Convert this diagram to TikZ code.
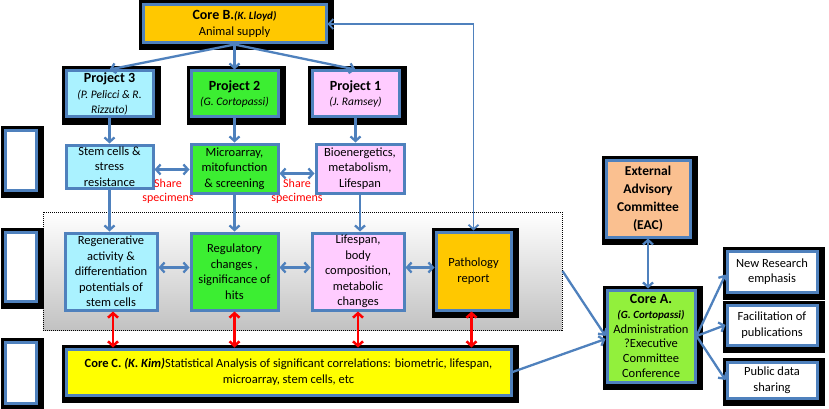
\documentclass[tikz,border=0pt]{standalone}
\usepackage{fontspec}
\setmainfont{Carlito}
\usetikzlibrary{arrows.meta,positioning}
\definecolor{bord}{RGB}{79,129,189}
\definecolor{orng}{RGB}{255,200,0}
\definecolor{cyn}{RGB}{170,242,255}
\definecolor{grn}{RGB}{60,238,50}
\definecolor{pnk}{RGB}{255,204,255}
\definecolor{ylw}{RGB}{255,255,0}
\definecolor{lime}{RGB}{146,240,60}
\definecolor{peach}{RGB}{250,192,144}
\definecolor{rd}{RGB}{255,0,0}
\newcommand{\ttlfont}{\fontsize{14}{16}\selectfont\bfseries}
\newcommand{\nmfont}{\fontsize{11.5}{14}\selectfont\itshape}
\tikzset{
  bx/.style={rectangle,draw=bord,line width=3pt,align=center,inner sep=1pt,font=\fontsize{12.5}{15.5}\selectfont},
  shd/.style={preaction={fill=black,draw=black,line width=12pt,transform canvas={shift={(1.5pt,-1.5pt)}}}},
  pnl/.style={rectangle,draw=black,densely dotted,line width=1pt,top color=white,bottom color=black!24},
  arr/.style={-{Straight Barb[length=4.5pt,width=10pt]},draw=bord,line width=2.3pt},
  darr/.style={{Straight Barb[length=4.5pt,width=10pt]}-{Straight Barb[length=4.5pt,width=10pt]},draw=bord,line width=2.3pt},
  rarr/.style={{Straight Barb[length=4.5pt,width=10pt]}-{Straight Barb[length=4.5pt,width=10pt]},draw=rd,line width=2.5pt},
  shr/.style={text=rd,align=center,font=\fontsize{12}{14}\selectfont},
}

\begin{document}
\begin{tikzpicture}[x=1pt,y=-1pt]
\useasboundingbox (0,0) rectangle (829,409);
% grey panel behind the second row of results
\node[pnl,minimum width=519pt,minimum height=118pt] (panel) at (302.5,271) {};
% left markers
\node[bx,fill=white,shd,minimum width=31pt,minimum height=60pt] (lb1) at (20.5,160) {};
\node[bx,fill=white,shd,minimum width=31pt,minimum height=69pt] (lb2) at (20.5,266.5) {};
\node[bx,fill=white,shd,minimum width=31pt,minimum height=61pt] (lb3) at (20.5,372.5) {};
% cores and projects
\node[bx,fill=orng,shd,minimum width=183pt,minimum height=38pt] (coreB) at (234.5,24)
  {{\ttlfont Core B.}{\fontsize{11}{13}\selectfont\bfseries\itshape(K. Lloyd)}\\Animal supply};
\node[bx,fill=cyn,shd,minimum width=87pt,minimum height=46pt] (p3) at (109.5,94)
  {{\ttlfont Project 3}\\{\nmfont(P. Pelicci \& R.}\\{\nmfont Rizzuto)}};
\node[bx,fill=grn,shd,minimum width=87pt,minimum height=46pt] (p2) at (234.5,94)
  {{\ttlfont Project 2}\\{\nmfont(G. Cortopassi)}};
\node[bx,fill=pnk,shd,minimum width=87pt,minimum height=46pt] (p1) at (355.5,94)
  {{\ttlfont Project 1}\\{\nmfont(J. Ramsey)}};
% first row of results
\node[bx,fill=cyn,minimum width=87pt,minimum height=43pt] (stem) at (109.5,166.5) {Stem cells \&\\stress\\resistance};
\node[bx,fill=grn,minimum width=87pt,minimum height=49pt] (micro) at (234.5,168.5) {Microarray,\\mitofunction\\\& screening};
\node[bx,fill=pnk,minimum width=88pt,minimum height=49pt] (bio) at (360,168.5) {Bioenergetics,\\metabolism,\\Lifespan};
\node[shr] (sh1) at (168,191) {Share\\specimens};
\node[shr] (sh2) at (297,191) {Share\\specimens};
% second row of results
\node[bx,fill=cyn,minimum width=92pt,minimum height=77pt] (regen) at (111,271.5)
  {Regenerative\\activity \&\\differentiation\\potentials of\\stem cells};
\node[bx,fill=grn,minimum width=87pt,minimum height=77pt] (regul) at (234.5,271.5)
  {Regulatory\\changes ,\\significance of\\hits};
\node[bx,fill=pnk,minimum width=92pt,minimum height=77pt] (life) at (358,271.5)
  {Lifespan,\\body\\composition,\\metabolic\\changes};
\node[bx,fill=orng,shd,minimum width=75pt,minimum height=78pt] (path) at (473.5,271) {Pathology\\report};
\node[bx,fill=ylw,shd,minimum width=445pt,minimum height=46pt] (coreC) at (288.5,372)
  {{\bfseries Core C.} {\bfseries\itshape(K. Kim)}Statistical Analysis of significant correlations: biometric, lifespan,\\microarray, stem cells, etc};
% administration
\node[bx,fill=peach,shd,minimum width=84pt,minimum height=77pt,font=\fontsize{13.5}{18}\selectfont\bfseries] (eac) at (648,198.5)
  {External\\Advisory\\Committee\\(EAC)};
\node[bx,fill=lime,shd,minimum width=88pt,minimum height=92pt,font=\fontsize{12.5}{14.8}\selectfont] (coreA) at (651,336)
  {{\ttlfont Core A.}\\{\fontsize{11}{13}\selectfont\bfseries\itshape(G. Cortopassi)}\\Administration\\?Executive\\Committee\\Conference};
\node[bx,fill=white,shd,minimum width=90pt,minimum height=41pt] (newr) at (772,271.5) {New Research\\emphasis};
\node[bx,fill=white,shd,minimum width=90pt,minimum height=40pt] (facil) at (772,325) {Facilitation of\\publications};
\node[bx,fill=white,shd,minimum width=90pt,minimum height=36pt] (pub) at (772,380) {Public data\\sharing};
% connectors
\draw[arr] (coreB.south) -- (p3.north);
\draw[arr] (coreB.south) -- (p2.north);
\draw[arr] (coreB.south) -- (p1.north);
\draw[arr] (p3.south) -- (p3.south |- stem.north);
\draw[arr] (p2.south) -- (p2.south |- micro.north);
\draw[arr] (p1.south) -- (p1.south |- bio.north);
\draw[darr] ([yshift=-3pt]stem.east) -- ([yshift=-3pt]stem.east -| micro.west);
\draw[darr] ([yshift=-5pt]micro.east) -- ([yshift=-5pt]micro.east -| bio.west);
\draw[arr] (stem.south) -- (stem.south |- regen.north);
\draw[arr] (micro.south) -- (micro.south |- regul.north);
\draw[arr] (bio.south) -- (bio.south |- life.north);
\draw[darr] ([yshift=4pt]regen.east) -- ([yshift=4pt]regen.east -| regul.west);
\draw[darr] ([yshift=4pt]regul.east) -- ([yshift=4pt]regul.east -| life.west);
\draw[darr] ([yshift=4pt]life.east) -- ([yshift=4pt]life.east -| path.west);
\draw[darr,line width=1.8pt] (path.north) |- (coreB.east);
\draw[rarr] ([xshift=2pt]regen.south) -- ([xshift=2pt]regen.south |- coreC.north);
\draw[rarr] (regul.south) -- (regul.south |- coreC.north);
\draw[rarr] (life.south) -- (life.south |- coreC.north);
\draw[rarr] ([xshift=-2pt]path.south) -- ([xshift=-2pt]path.south |- coreC.north);
\draw[arr] (panel.east) -- (coreA.west);
\draw[arr] (coreC.east) -- ([yshift=-3pt]coreA.west);
\draw[darr] (eac.south) -- (eac.south |- coreA.north);
\draw[arr] (coreA.east) -- ([yshift=-3pt]newr.west);
\draw[arr] (coreA.east) -- (facil.west);
\draw[arr] (coreA.east) -- (pub.west);
\end{tikzpicture}
\end{document}
